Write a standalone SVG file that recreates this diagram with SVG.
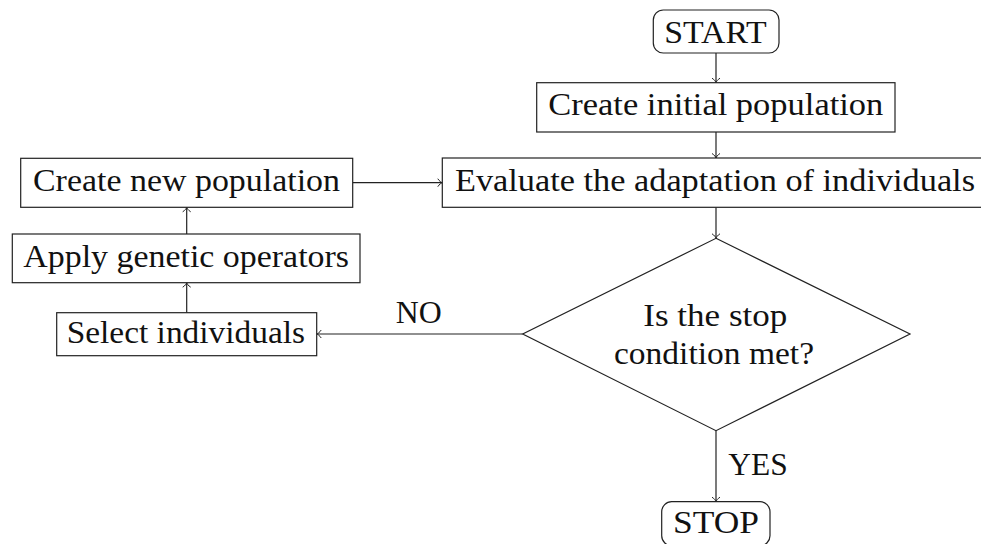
<svg xmlns="http://www.w3.org/2000/svg" width="981" height="544" viewBox="0 0 981 544">
<style>
.box{fill:#fff;stroke:#222;stroke-width:1.2}
.t{font-family:"Liberation Serif","DejaVu Serif",serif;font-size:31px;fill:#111}
.c{stroke:#222;stroke-width:1.2;fill:none;marker-end:url(#ah)}
</style>
<defs>
<marker id="ah" markerUnits="userSpaceOnUse" viewBox="-6 -6 8 12" refX="0" refY="0" markerWidth="8" markerHeight="12" orient="auto" overflow="visible">
<path d="M-4.5,-4 C-3,-1.5 -1,-0.3 0,0 C-1,0.3 -3,1.5 -4.5,4" fill="none" stroke="#222" stroke-width="1"/>
</marker>
</defs>
<rect width="981" height="544" fill="#fff"/>
<g id="connectors">
<line class="c" x1="716" y1="53" x2="716" y2="82.7"/>
<line class="c" x1="716" y1="132" x2="716" y2="158"/>
<line class="c" x1="716" y1="207.3" x2="716" y2="238.3"/>
<line class="c" x1="352.7" y1="182.7" x2="442.3" y2="182.7"/>
<line class="c" x1="186.7" y1="234" x2="186.7" y2="207.3"/>
<line class="c" x1="186.7" y1="312.7" x2="186.7" y2="282.7"/>
<line class="c" x1="522.7" y1="334" x2="316.7" y2="334"/>
<line class="c" x1="716" y1="430.7" x2="716" y2="501.7"/>
<text class="t" x="395.7" y="323.3" textLength="46" lengthAdjust="spacingAndGlyphs">NO</text>
<text class="t" x="728.3" y="475" textLength="59.4" lengthAdjust="spacingAndGlyphs">YES</text>
</g>
<g id="start">
<rect class="box" x="653.3" y="10" width="125.7" height="43" rx="10"/>
<text class="t" x="664.3" y="43.3" textLength="102.4" lengthAdjust="spacingAndGlyphs">START</text>
</g>
<g id="create-initial">
<rect class="box" x="536.7" y="82.7" width="358.3" height="49.3"/>
<text class="t" x="548.3" y="115" textLength="335" lengthAdjust="spacingAndGlyphs">Create initial population</text>
</g>
<g id="evaluate">
<rect class="box" x="442.3" y="158" width="546" height="49.3"/>
<text class="t" x="455" y="190.5" textLength="520" lengthAdjust="spacingAndGlyphs">Evaluate the adaptation of individuals</text>
</g>
<g id="decision">
<polygon class="box" points="716,238.3 910,334 716,430.7 522.7,334"/>
<text class="t" x="643.3" y="326" textLength="144" lengthAdjust="spacingAndGlyphs">Is the stop</text>
<text class="t" x="614" y="364" textLength="200" lengthAdjust="spacingAndGlyphs">condition met?</text>
</g>
<g id="create-new">
<rect class="box" x="20.7" y="158.3" width="332" height="49"/>
<text class="t" x="33" y="190.5" textLength="307" lengthAdjust="spacingAndGlyphs">Create new population</text>
</g>
<g id="apply">
<rect class="box" x="12.3" y="234" width="347.7" height="48.7"/>
<text class="t" x="23.3" y="267.3" textLength="325.7" lengthAdjust="spacingAndGlyphs">Apply genetic operators</text>
</g>
<g id="select">
<rect class="box" x="56.7" y="312.7" width="260" height="43"/>
<text class="t" x="66.7" y="343.3" textLength="238.3" lengthAdjust="spacingAndGlyphs">Select individuals</text>
</g>
<g id="stop">
<rect class="box" x="661.7" y="501.7" width="108.3" height="44" rx="10"/>
<text class="t" x="673" y="533.3" textLength="86" lengthAdjust="spacingAndGlyphs">STOP</text>
</g>
</svg>
